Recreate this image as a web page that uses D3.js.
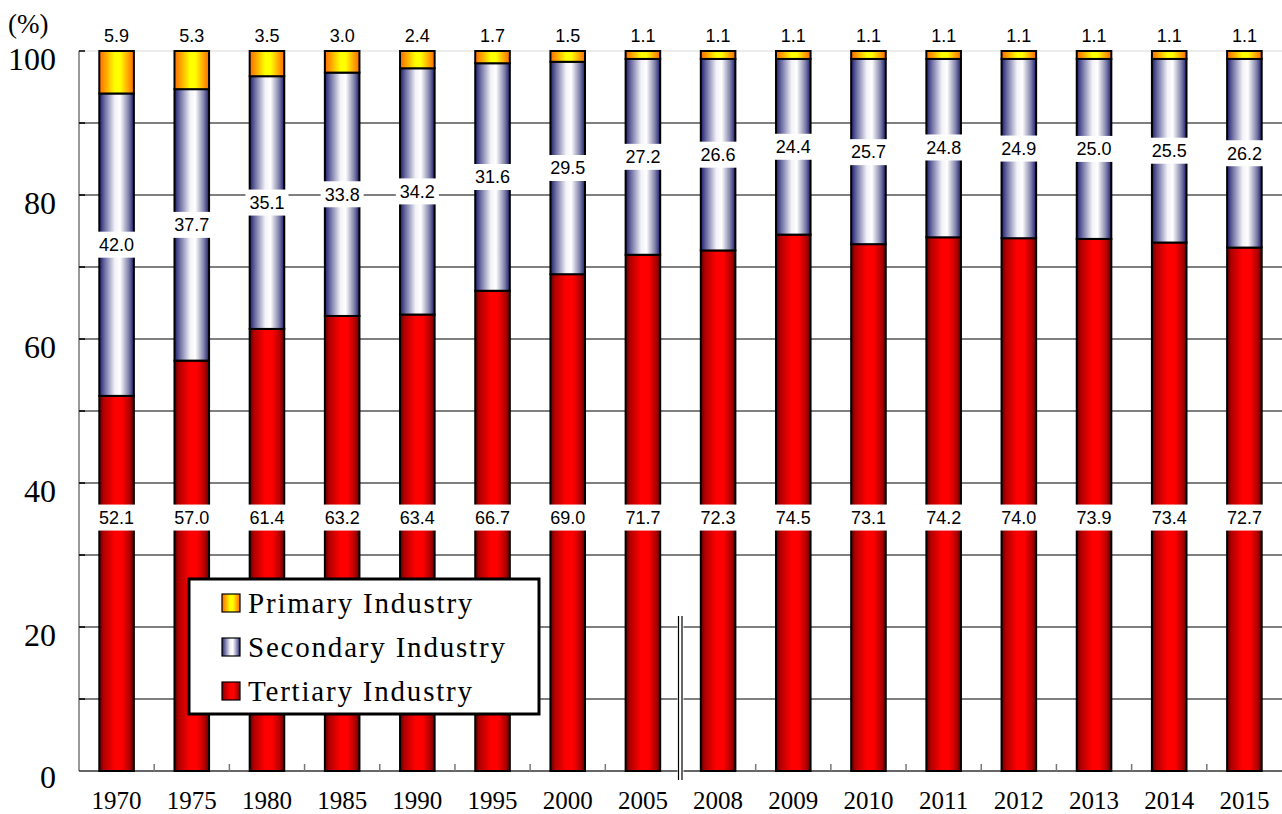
<!DOCTYPE html>
<html><head><meta charset="utf-8">
<script src="https://cdn.jsdelivr.net/npm/d3@7"></script>
<style>body{margin:0;background:#fff}svg{display:block}</style>
</head><body>
<svg id="c" width="1282" height="814"></svg>
<script>
const years = ["1970","1975","1980","1985","1990","1995","2000","2005","2008","2009","2010","2011","2012","2013","2014","2015"];
const primary = [5.9,5.3,3.5,3.0,2.4,1.7,1.5,1.1,1.1,1.1,1.1,1.1,1.1,1.1,1.1,1.1];
const secondary = [42.0,37.7,35.1,33.8,34.2,31.6,29.5,27.2,26.6,24.4,25.7,24.8,24.9,25.0,25.5,26.2];
const tertiary = [52.1,57.0,61.4,63.2,63.4,66.7,69.0,71.7,72.3,74.5,73.1,74.2,74.0,73.9,73.4,72.7];
const seriesNames = ["Primary Industry","Secondary Industry","Tertiary Industry"];
const yTicks = [0,20,40,60,80,100];

const svg = d3.select("#c");
const W = 1282, H = 814;
const m = {l:79, r:0, t:51, b:43};
const x = d3.scaleBand().domain(years).range([m.l, W - m.r]).paddingInner(0.54).paddingOuter(0.27);
const xb = d3.scaleBand().domain(years).range([m.l, W - m.r]);
const y = d3.scaleLinear().domain([0,100]).range([H - m.b, m.t]);

// gradients
const defs = svg.append("defs");
function grad(id, stops){
  const g = defs.append("linearGradient").attr("id", id).attr("x1","0").attr("x2","1").attr("y1","0").attr("y2","0");
  stops.forEach(s => g.append("stop").attr("offset", s[0]).attr("stop-color", s[1]));
}
grad("gT", [[0,"#5a0000"],[0.12,"#b00000"],[0.45,"#ff0000"],[0.65,"#ff0000"],[0.88,"#b00000"],[1,"#5a0000"]]);
grad("gS", [[0,"#1c1c6e"],[0.15,"#6a6aa0"],[0.45,"#f2f2f8"],[0.6,"#ffffff"],[0.85,"#8080aa"],[1,"#1c1c6e"]]);
grad("gP", [[0,"#ff6a00"],[0.15,"#ff9a00"],[0.45,"#ffff00"],[0.6,"#ffff00"],[0.85,"#ffa000"],[1,"#ff6a00"]]);
const fills = {"Primary Industry":"url(#gP)","Secondary Industry":"url(#gS)","Tertiary Industry":"url(#gT)"};

// gridlines
const grid = d3.range(10, 101, 10);
svg.append("g").selectAll("line").data(grid).join("line")
  .attr("x1", m.l).attr("x2", W).attr("y1", d => y(d)).attr("y2", d => y(d))
  .attr("stroke", d => d === 100 ? "#d8d8d8" : "#555").attr("stroke-width", d => d === 100 ? 1 : 1.3);

// axes
svg.append("line").attr("x1", m.l).attr("x2", m.l).attr("y1", y(100)).attr("y2", y(0)).attr("stroke","#777").attr("stroke-width",1.5);
svg.append("g").selectAll("line").data(grid).join("line")
  .attr("x1", m.l).attr("x2", m.l + 6).attr("y1", d => y(d)).attr("y2", d => y(d)).attr("stroke","#000").attr("stroke-width",1.5);
svg.append("line").attr("x1", m.l).attr("x2", W).attr("y1", y(0)).attr("y2", y(0)).attr("stroke","#333").attr("stroke-width",1.5);
svg.append("g").selectAll("line").data(years.slice(1)).join("line")
  .attr("x1", d => xb(d)).attr("x2", d => xb(d)).attr("y1", y(0)).attr("y2", y(0) - 7).attr("stroke","#777").attr("stroke-width",1.5);

// y labels
svg.append("g").selectAll("text").data(yTicks).join("text")
  .attr("x", 56).attr("y", d => y(d) + (d === 0 ? 6 : 8)).attr("dy","0.35em")
  .attr("text-anchor","end").attr("font-family","Liberation Serif, serif").attr("font-size",32).text(d => d);
svg.append("text").attr("x", 8).attr("y", 33).attr("font-family","Liberation Serif, serif").attr("font-size",27).text("(%)");

// x labels
svg.append("g").selectAll("text").data(years).join("text")
  .attr("x", d => xb(d) + xb.bandwidth()/2).attr("y", 809)
  .attr("text-anchor","middle").attr("font-family","Liberation Serif, serif").attr("font-size",25).text(d => d);

// stacked bars (normalised to 100%)
const rows = years.map((yr,i) => ({year:yr, "Tertiary Industry":tertiary[i], "Secondary Industry":secondary[i], "Primary Industry":primary[i]}));
const stack = d3.stack().keys(["Tertiary Industry","Secondary Industry","Primary Industry"]).offset(d3.stackOffsetExpand)(rows);
const layers = svg.append("g").selectAll("g").data(stack).join("g").attr("fill", d => fills[d.key]);
layers.selectAll("rect").data(d => d).join("rect")
  .attr("x", d => x(d.data.year)).attr("width", x.bandwidth())
  .attr("y", d => y(d[1]*100)).attr("height", d => y(d[0]*100) - y(d[1]*100))
  .attr("stroke","#000").attr("stroke-width",2);

// value labels
const LF = "Liberation Sans, Arial, sans-serif";
function label(cx, cy, txt){
  const g = svg.append("g");
  const t = g.append("text").attr("x", cx).attr("y", cy).attr("dy","0.35em").attr("text-anchor","middle")
    .attr("font-family", LF).attr("font-size",18).text(txt);
  const bb = t.node().getBBox();
  g.insert("rect","text").attr("x", bb.x - 4).attr("y", cy - 13).attr("width", bb.width + 8).attr("height", 26).attr("fill","#fff");
}
years.forEach((yr,i) => {
  const cx = x(yr) + x.bandwidth()/2;
  label(cx, y(35.2), tertiary[i].toFixed(1));
  label(cx, y(tertiary[i] + secondary[i]/2), secondary[i].toFixed(1));
  svg.append("text").attr("x", cx).attr("y", 42).attr("text-anchor","middle")
    .attr("font-family", LF).attr("font-size",18).text(primary[i].toFixed(1));
});

// axis break
const bx = xb(years[8]);
svg.append("rect").attr("x", bx - 3).attr("y", 616).attr("width", 6).attr("height", 164).attr("fill","#fff");
svg.append("line").attr("x1", bx - 2).attr("x2", bx - 2).attr("y1", 616).attr("y2", 780).attr("stroke","#000").attr("stroke-width",1.2);
svg.append("line").attr("x1", bx + 1.5).attr("x2", bx + 1.5).attr("y1", 616).attr("y2", 780).attr("stroke","#000").attr("stroke-width",1.2);

// legend
const lg = svg.append("g");
lg.append("rect").attr("x", 189).attr("y", 579).attr("width", 350).attr("height", 135).attr("fill","#fff").attr("stroke","#000").attr("stroke-width",3);
seriesNames.forEach((n,i) => {
  const cy = 603 + i*44;
  lg.append("rect").attr("x", 222).attr("y", cy - 9).attr("width", 18).attr("height", 18).attr("fill", fills[n]).attr("stroke","#000").attr("stroke-width",1.2);
  lg.append("text").attr("x", 248).attr("y", cy).attr("dy","0.35em").attr("font-family","Liberation Serif, serif")
    .attr("font-size",29).attr("letter-spacing","1.8px").text(n);
});
</script>
</body></html>
